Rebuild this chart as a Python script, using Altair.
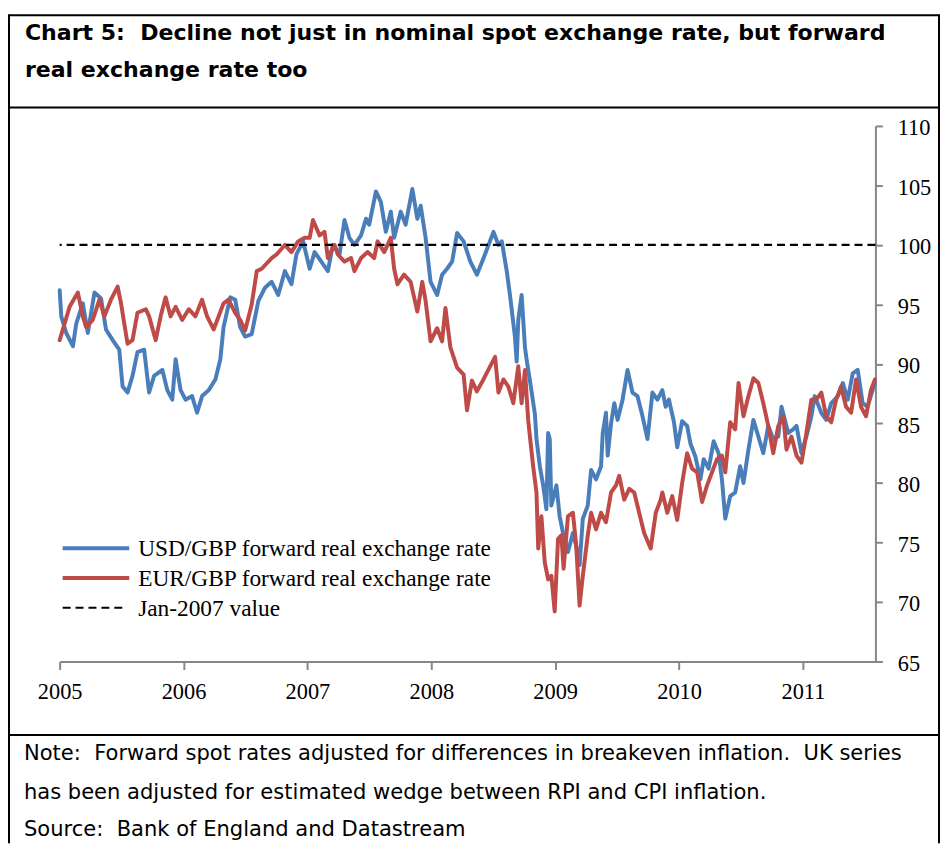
import altair as alt
import pandas as pd

# ---------------- data ----------------
usd_t = [2005.000, 2005.013, 2005.053, 2005.107, 2005.134, 2005.187, 2005.227, 2005.281, 2005.334, 2005.374,
         2005.428, 2005.481, 2005.508, 2005.548, 2005.588, 2005.628, 2005.682, 2005.722, 2005.762, 2005.829,
         2005.869, 2005.909, 2005.936, 2005.976, 2006.016, 2006.069, 2006.109, 2006.150, 2006.203, 2006.257,
         2006.297, 2006.323, 2006.377, 2006.417, 2006.457, 2006.497, 2006.550, 2006.604, 2006.657, 2006.711,
         2006.764, 2006.818, 2006.871, 2006.911, 2006.965, 2007.018, 2007.058, 2007.112, 2007.165, 2007.205,
         2007.259, 2007.299, 2007.339, 2007.379, 2007.433, 2007.473, 2007.499, 2007.553, 2007.593, 2007.633,
         2007.673, 2007.700, 2007.753, 2007.793, 2007.847, 2007.887, 2007.914, 2007.954, 2007.994, 2008.047,
         2008.087, 2008.127, 2008.168, 2008.208, 2008.261, 2008.315, 2008.368, 2008.422, 2008.462, 2008.502,
         2008.542, 2008.569, 2008.609, 2008.635, 2008.675, 2008.689, 2008.702, 2008.729, 2008.756, 2008.769,
         2008.796, 2008.836, 2008.849, 2008.876, 2008.903, 2008.929, 2008.943, 2008.956, 2008.969, 2009.010,
         2009.036, 2009.063, 2009.103, 2009.143, 2009.170, 2009.197, 2009.223, 2009.263, 2009.290, 2009.330,
         2009.370, 2009.384, 2009.410, 2009.424, 2009.451, 2009.477, 2009.504, 2009.544, 2009.584, 2009.624,
         2009.664, 2009.705, 2009.745, 2009.785, 2009.825, 2009.865, 2009.892, 2009.918, 2009.959, 2009.985,
         2010.025, 2010.065, 2010.092, 2010.132, 2010.172, 2010.199, 2010.239, 2010.279, 2010.319, 2010.346,
         2010.373, 2010.413, 2010.453, 2010.493, 2010.520, 2010.560, 2010.600, 2010.640, 2010.680, 2010.720,
         2010.760, 2010.801, 2010.827, 2010.881, 2010.921, 2010.948, 2010.988, 2011.028, 2011.068, 2011.095,
         2011.148, 2011.188, 2011.228, 2011.282, 2011.322, 2011.362, 2011.402, 2011.442, 2011.482, 2011.522,
         2011.562, 2011.581]
usd_v = [96.2, 94.0, 92.6, 91.5, 93.4, 95.1, 92.6, 96.0, 95.5, 92.9,
         92.0, 91.2, 88.1, 87.6, 89.0, 91.0, 91.2, 87.6, 89.0, 89.5,
         87.8, 87.0, 90.4, 87.8, 87.0, 87.3, 85.9, 87.3, 87.8, 88.7,
         90.4, 93.1, 95.6, 95.4, 93.1, 92.3, 92.5, 95.3, 96.4, 96.9,
         95.8, 97.8, 96.7, 99.2, 100.3, 98.0, 99.4, 98.6, 97.8, 100.0,
         99.2, 102.1, 100.6, 100.0, 100.8, 102.2, 101.7, 104.5, 103.6, 101.1,
         102.8, 100.6, 102.8, 101.7, 104.7, 102.2, 103.3, 100.6, 96.9, 95.8,
         97.5, 98.0, 98.6, 101.0, 100.3, 98.6, 97.5, 98.9, 100.0, 101.1,
         100.0, 100.3, 97.8, 95.8, 92.3, 90.2, 93.7, 95.8, 91.4, 90.4,
         88.6, 85.8, 83.7, 81.4, 79.8, 77.8, 84.2, 83.7, 78.1, 79.8,
         77.2, 75.8, 74.2, 75.8, 74.7, 73.1, 77.0, 78.1, 81.1, 80.3,
         81.4, 84.2, 85.9, 82.3, 85.0, 86.7, 85.3, 87.0, 89.5, 87.6,
         87.3, 85.6, 83.7, 87.6, 87.0, 87.8, 86.4, 87.0, 85.1, 83.0,
         85.2, 84.8, 83.3, 82.2, 80.3, 82.0, 81.2, 83.5, 82.5, 80.3,
         77.0, 78.9, 79.2, 81.4, 80.0, 82.8, 85.3, 83.9, 82.5, 84.8,
         83.7, 83.9, 86.4, 84.2, 84.5, 84.8, 82.5, 83.9, 85.6, 87.3,
         85.9, 85.3, 86.7, 87.3, 88.4, 87.0, 89.2, 89.5, 86.7, 86.4,
         87.8, 88.4]

eur_t = [2005.000, 2005.040, 2005.080, 2005.147, 2005.187, 2005.214, 2005.267, 2005.321, 2005.361, 2005.414,
         2005.468, 2005.495, 2005.548, 2005.588, 2005.628, 2005.695, 2005.722, 2005.775, 2005.815, 2005.855,
         2005.895, 2005.936, 2005.989, 2006.042, 2006.096, 2006.149, 2006.190, 2006.243, 2006.283, 2006.323,
         2006.363, 2006.417, 2006.457, 2006.497, 2006.550, 2006.591, 2006.631, 2006.711, 2006.751, 2006.818,
         2006.871, 2006.925, 2006.978, 2007.018, 2007.045, 2007.098, 2007.138, 2007.165, 2007.219, 2007.245,
         2007.299, 2007.352, 2007.379, 2007.433, 2007.486, 2007.539, 2007.566, 2007.620, 2007.673, 2007.700,
         2007.727, 2007.780, 2007.833, 2007.887, 2007.927, 2007.954, 2007.994, 2008.047, 2008.087, 2008.114,
         2008.154, 2008.208, 2008.261, 2008.288, 2008.328, 2008.368, 2008.421, 2008.475, 2008.515, 2008.542,
         2008.582, 2008.622, 2008.662, 2008.702, 2008.729, 2008.756, 2008.782, 2008.796, 2008.822, 2008.849,
         2008.863, 2008.889, 2008.916, 2008.943, 2008.969, 2008.996, 2009.023, 2009.050, 2009.068, 2009.103,
         2009.143, 2009.170, 2009.197, 2009.223, 2009.263, 2009.290, 2009.330, 2009.370, 2009.410, 2009.451,
         2009.491, 2009.517, 2009.557, 2009.598, 2009.638, 2009.678, 2009.718, 2009.771, 2009.812, 2009.852,
         2009.865, 2009.905, 2009.945, 2009.985, 2010.025, 2010.065, 2010.105, 2010.146, 2010.186, 2010.226,
         2010.266, 2010.306, 2010.346, 2010.373, 2010.413, 2010.453, 2010.480, 2010.520, 2010.560, 2010.600,
         2010.640, 2010.680, 2010.720, 2010.760, 2010.801, 2010.841, 2010.867, 2010.907, 2010.948, 2010.988,
         2011.028, 2011.068, 2011.108, 2011.148, 2011.188, 2011.228, 2011.268, 2011.308, 2011.348, 2011.389,
         2011.429, 2011.469, 2011.509, 2011.549, 2011.581]
eur_v = [92.0, 93.4, 94.8, 96.0, 94.0, 93.1, 93.7, 95.4, 94.0, 95.4,
         96.5, 95.1, 91.7, 92.0, 94.3, 94.6, 94.0, 92.0, 94.0, 95.6,
         94.0, 94.8, 93.7, 94.6, 94.0, 95.4, 94.0, 92.9, 94.0, 95.1,
         95.4, 94.3, 93.7, 92.8, 95.0, 97.8, 98.0, 98.9, 99.2, 100.0,
         99.4, 100.3, 100.6, 100.6, 102.1, 100.8, 101.1, 98.9, 100.0, 99.2,
         98.6, 98.9, 97.8, 98.9, 99.4, 98.9, 100.3, 99.4, 100.6, 98.0,
         96.7, 97.5, 96.9, 94.4, 96.9, 95.3, 91.9, 93.0, 91.9, 94.7,
         91.4, 89.7, 89.1, 86.1, 88.6, 87.7, 88.7, 89.8, 90.6, 87.6,
         88.7, 88.1, 86.7, 89.8, 86.7, 89.5, 85.3, 83.9, 81.4, 79.2,
         74.5, 77.2, 73.3, 71.9, 72.2, 69.2, 75.3, 75.6, 72.8, 77.2,
         77.5, 74.7, 69.7, 72.2, 75.6, 77.5, 76.1, 77.5, 76.7, 79.2,
         79.8, 80.6, 78.6, 79.5, 79.2, 77.5, 75.8, 74.5, 77.5, 78.6,
         79.2, 77.5, 78.9, 76.9, 80.0, 82.5, 81.2, 80.9, 78.4, 79.8,
         80.9, 82.0, 82.3, 80.9, 85.1, 84.5, 88.4, 85.6, 87.3, 88.8,
         88.4, 86.7, 84.8, 82.5, 84.8, 85.6, 82.8, 83.9, 82.3, 81.7,
         84.2, 87.0, 87.0, 87.6, 85.6, 85.1, 87.0, 88.1, 86.4, 85.9,
         88.7, 86.4, 85.6, 87.8, 88.7]

series_names = ["USD/GBP forward real exchange rate",
                "EUR/GBP forward real exchange rate",
                "Jan-2007 value"]
series_colors = ["#4A7EBB", "#BE4B48", "#000000"]
ref_value = [100]
year_ticks = [2005, 2006, 2007, 2008, 2009, 2010, 2011]
value_ticks = [65, 70, 75, 80, 85, 90, 95, 100, 105, 110]
x_domain = [2005, 2011.585]
y_domain = [65, 110]

NB = "\u00a0"  # keeps the double spaces of the original text
title_lines = ["Chart 5:" + NB + " Decline not just in nominal spot exchange rate, but forward",
               "real exchange rate too"]
note_lines = ["Note:" + NB + " Forward spot rates adjusted for differences in breakeven inflation." + NB + " UK series",
              "has been adjusted for estimated wedge between RPI and CPI inflation.",
              "Source:" + NB + " Bank of England and Datastream"]

# ---------------- build table ----------------
df = pd.concat([
    pd.DataFrame({"t": usd_t, "v": usd_v, "s": series_names[0]}),
    pd.DataFrame({"t": eur_t, "v": eur_v, "s": series_names[1]}),
], ignore_index=True)

W, H = 821, 539
AXIS_GREY = "#868686"
SERIF = "Liberation Serif"
SANS = "DejaVu Sans"

x_scale = alt.Scale(domain=x_domain, nice=False, zero=False)
y_scale = alt.Scale(domain=y_domain, nice=False, zero=False)
color_scale = alt.Scale(domain=series_names[:2], range=series_colors[:2])

x_axis = alt.Axis(values=year_ticks, format="d", title=None, grid=False,
                  domainColor=AXIS_GREY, domainWidth=2, tickColor=AXIS_GREY, tickWidth=2,
                  tickSize=8, labelFont=SERIF, labelFontSize=22.5, labelColor="black",
                  labelPadding=11, labelFlush=False, labelOverlap=False)
y_axis = alt.Axis(orient="right", values=value_ticks, title=None, grid=False,
                  domainColor=AXIS_GREY, domainWidth=2, tickColor=AXIS_GREY, tickWidth=2,
                  tickSize=7, labelFont=SERIF, labelFontSize=22.5, labelColor="black",
                  labelPadding=15, labelAlign="left", labelOffset=2, labelFlush=False,
                  labelOverlap=False)

base = alt.Chart(df)


def series_layer(name):
    return base.transform_filter(alt.datum.s == name).mark_line(
        strokeWidth=4, strokeJoin="round", strokeCap="round"
    ).encode(
        x=alt.X("t:Q", scale=x_scale, axis=x_axis),
        y=alt.Y("v:Q", scale=y_scale, axis=y_axis),
        color=alt.Color("s:N", scale=color_scale, legend=None),
    )


usd_line = series_layer(series_names[0])
eur_line = series_layer(series_names[1])

ref_line = alt.Chart(pd.DataFrame({"v": ref_value})).mark_rule(
    color="black", strokeWidth=2.2, strokeDash=[8, 5]
).encode(y=alt.Y("v:Q", scale=y_scale, axis=y_axis))

one = pd.DataFrame({"k": [0]})


def hline(x1, x2, y, color="black", width=2, dash=None):
    kw = dict(color=color, strokeWidth=width)
    if dash:
        kw["strokeDash"] = dash
    return alt.Chart(one).mark_rule(**kw).encode(
        x=alt.value(x1), x2=alt.value(x2), y=alt.value(y))


def vline(x, y1, y2, color="black", width=2):
    return alt.Chart(one).mark_rule(color=color, strokeWidth=width).encode(
        x=alt.value(x), y=alt.value(y1), y2=alt.value(y2))


def label(txt, x, y, font, size, weight="normal"):
    return alt.Chart(one).mark_text(
        text=txt, align="left", baseline="alphabetic", font=font,
        fontSize=size, fontWeight=weight, color="black"
    ).encode(x=alt.value(x), y=alt.value(y))


# frame (coordinates relative to plot area)
frame = [
    hline(-52, 886, -111.3),
    hline(-52, 886, -18.5),
    hline(-52, 886, 613),
    vline(-51, -112, 722),
    vline(885, -112, 722),
]

titles = [label(title_lines[0], -35, -86.5, SANS, 22.2, "bold"),
          label(title_lines[1], -35, -49.5, SANS, 22.2, "bold")]
notes = [label(note_lines[0], -36, 638.5, SANS, 21.2),
         label(note_lines[1], -36, 677.5, SANS, 21.2),
         label(note_lines[2], -36, 715, SANS, 21.2)]

legend = [
    hline(3, 70, 425, color=series_colors[0], width=4),
    hline(3, 70, 455, color=series_colors[1], width=4),
    hline(3, 66, 485, color="black", width=2, dash=[8, 5]),
    label(series_names[0], 79, 433.3, SERIF, 23.5),
    label(series_names[1], 79, 463.3, SERIF, 23.5),
    label(series_names[2], 79, 493.3, SERIF, 23.5),
]

chart = alt.layer(
    usd_line, eur_line, ref_line, *legend, *frame, *titles, *notes
).properties(
    width=W, height=H,
    padding={"left": 52, "top": 116, "right": 65, "bottom": 183},
    autosize=alt.AutoSizeParams(type="none"),
    background="white",
).configure_view(stroke=None)

chart.save("out.html", embed_options={"renderer": "svg", "actions": False})
